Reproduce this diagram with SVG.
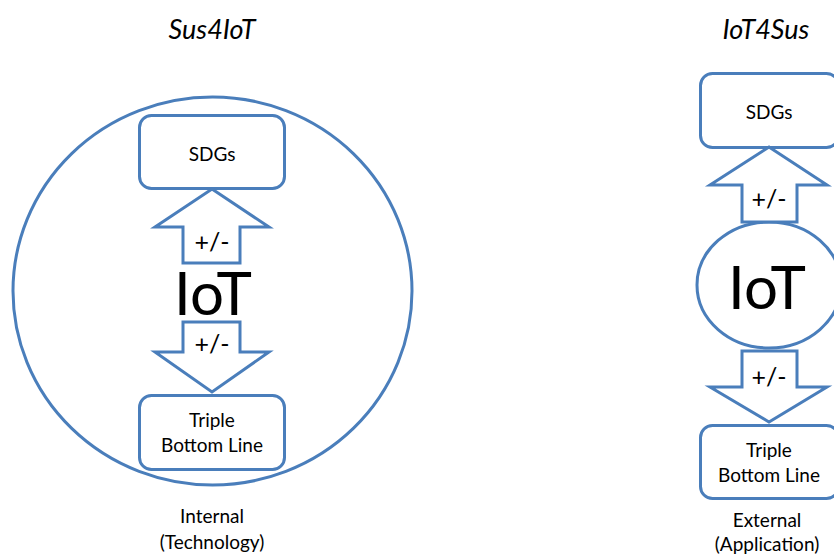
<svg xmlns="http://www.w3.org/2000/svg" width="834" height="554" viewBox="0 0 834 554">
  <style>
    .shape { fill: #ffffff; stroke: #4a7ebb; stroke-width: 3; stroke-linejoin: miter; }
    .ring { fill: none; stroke: #4a7ebb; stroke-width: 3; }
    text { font-family: Lato, "Liberation Sans", sans-serif; fill: #000000; text-anchor: middle; }
    .title { font-size: 27px; font-style: italic; }
    .label { font-size: 19px; }
    .sign { font-size: 25px; }
    .big { font-size: 60px; }
  </style>
  <rect width="834" height="554" fill="#ffffff"/>

  <!-- Left panel: Sus4IoT -->
  <text class="title" x="212" y="39">Sus4IoT</text>
  <g id="iot-scope">
    <ellipse class="ring" cx="212.5" cy="291" rx="199.5" ry="194"/>
    <text class="big" x="213" y="315">IoT</text>
  </g>
  <g id="sdgs-left">
    <rect class="shape" x="139.5" y="115.5" width="145" height="73" rx="12"/>
    <text class="label" x="212" y="161">SDGs</text>
  </g>
  <g id="tbl-left">
    <rect class="shape" x="139.5" y="395.5" width="145" height="74" rx="12"/>
    <text class="label" x="212" y="427">Triple</text>
    <text class="label" x="212" y="452">Bottom Line</text>
  </g>
  <g id="connectors-left">
    <polygon class="shape" points="212,189 269,227 240,227 240,263 183,263 183,227 155,227"/>
    <text class="sign" x="212" y="251">+/-</text>
    <polygon class="shape" points="183,322 240,322 240,352 269,352 212,392 155,352 183,352"/>
    <text class="sign" x="212" y="353">+/-</text>
  </g>
  <text class="label" x="212" y="523">Internal</text>
  <text class="label" x="212" y="549">(Technology)</text>

  <!-- Right panel: IoT4Sus -->
  <text class="title" x="766" y="39">IoT4Sus</text>
  <g id="sdgs-right">
    <rect class="shape" x="700.5" y="73.5" width="138" height="74" rx="12"/>
    <text class="label" x="769" y="119">SDGs</text>
  </g>
  <g id="iot-right">
    <ellipse class="shape" cx="769" cy="285" rx="72" ry="63"/>
    <text class="big" x="767" y="309">IoT</text>
  </g>
  <g id="tbl-right">
    <rect class="shape" x="700.5" y="425.5" width="138" height="73" rx="12"/>
    <text class="label" x="769" y="457">Triple</text>
    <text class="label" x="769" y="482">Bottom Line</text>
  </g>
  <g id="connectors-right">
    <polygon class="shape" points="769,147 827,185 797,185 797,222 742,222 742,185 710,185"/>
    <text class="sign" x="769" y="208">+/-</text>
    <polygon class="shape" points="742,351 797,351 797,387 827,387 769,422 710,387 742,387"/>
    <text class="sign" x="769" y="386">+/-</text>
  </g>
  <text class="label" x="767" y="527">External</text>
  <text class="label" x="767" y="551">(Application)</text>
</svg>
